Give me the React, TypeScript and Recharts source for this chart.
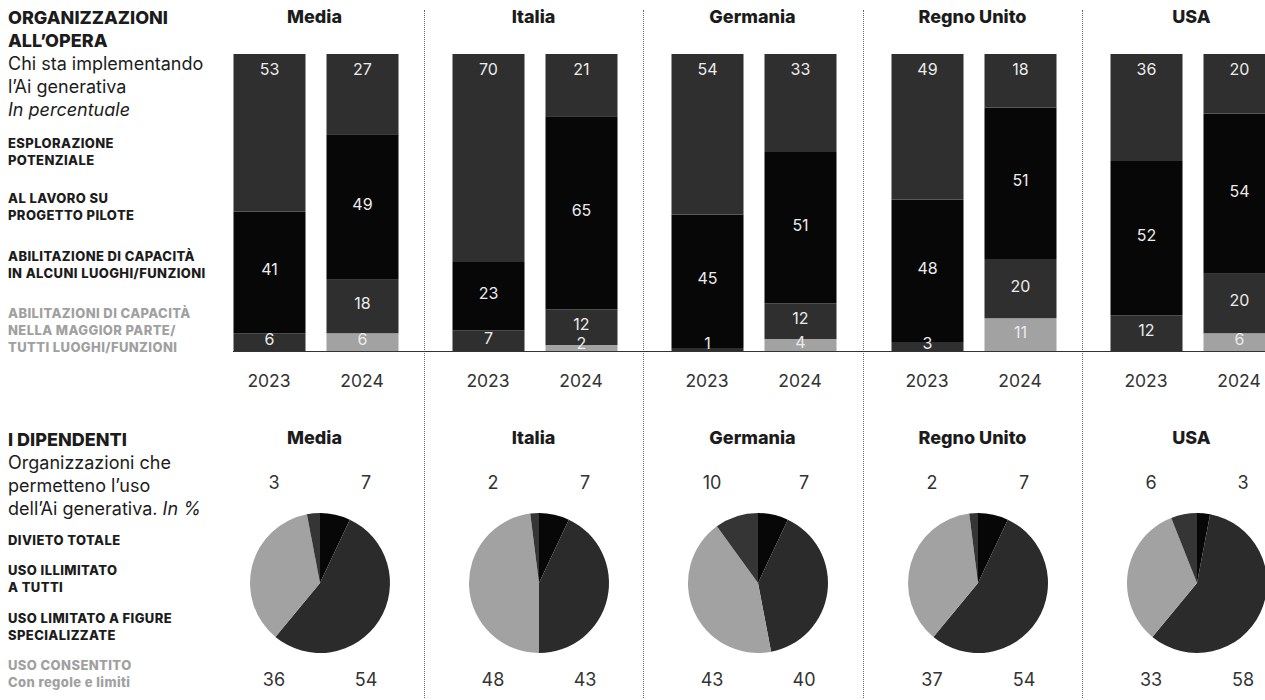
import React from "react";
import { Bar, BarChart, Cell, LabelList, Pie, PieChart, XAxis, YAxis } from "recharts";

const countries = ["Media", "Italia", "Germania", "Regno Unito", "USA"];
const years = ["2023", "2024"];

// bars, per country [2023, 2024]
const esplorazione = [[53, 27], [70, 21], [54, 33], [49, 18], [36, 20]];
const pilota = [[41, 49], [23, 65], [45, 51], [48, 51], [52, 54]];
const alcuni = [[6, 18], [7, 12], [1, 12], [3, 20], [12, 20]];
const maggior = [[0, 6], [0, 2], [0, 4], [0, 11], [0, 6]];

// pies, per country
const illimitato = [7, 7, 7, 7, 3];
const limitato = [54, 43, 40, 54, 58];
const consentito = [36, 48, 43, 37, 33];
const divieto = [3, 2, 10, 2, 6];

const barLegend = [
  ["ESPLORAZIONE", "POTENZIALE"],
  ["AL LAVORO SU", "PROGETTO PILOTE"],
  ["ABILITAZIONE DI CAPACITÀ", "IN ALCUNI LUOGHI/FUNZIONI"],
  ["ABILITAZIONI DI CAPACITÀ", "NELLA MAGGIOR PARTE/", "TUTTI LUOGHI/FUNZIONI"],
];
const pieLegend = [
  ["DIVIETO TOTALE"],
  ["USO ILLIMITATO", "A TUTTI"],
  ["USO LIMITATO A FIGURE", "SPECIALIZZATE"],
  ["USO CONSENTITO", "Con regole e limiti"],
];

const DARK = "#2f2f2f";
const BLACK = "#070707";
const LIGHT = "#a2a2a2";
const INK = "#1c1c1c";
const FONT = "Inter, 'Open Sans', sans-serif";

const PANEL_W = 219;
const PANEL_X = [205, 424, 643, 863, 1082];
const BAR_H = 400;
const BASE_Y = 351;

function midLabel(props: any) {
  const { x, y, width, height, value } = props;
  if (!value) return null;
  const cy = Math.min(y + height / 2 - 3, BASE_Y - 8);
  return (
    <text x={x + width / 2} y={cy} textAnchor="middle" dominantBaseline="central" fill="#ebebeb" fontSize={16} fontFamily={FONT}>
      {value}
    </text>
  );
}

function topLabel(props: any) {
  const { x, y, width, value } = props;
  if (!value) return null;
  return (
    <text x={x + width / 2} y={y + 15} textAnchor="middle" dominantBaseline="central" fill="#ebebeb" fontSize={16} fontFamily={FONT}>
      {value}
    </text>
  );
}

// labels sit in the four corners around the pie, not on the slices
const corner = [
  [46, -101],
  [46, 96],
  [-46, 96],
  [-46, -101],
];
function pieLabel(props: any) {
  const { cx, cy, index, value } = props;
  const [dx, dy] = corner[index];
  return (
    <text x={cx + dx} y={cy + dy} textAnchor="middle" dominantBaseline="central" fill="#333" fontSize={18} fontFamily={FONT}>
      {value}
    </text>
  );
}

function Title({ left, top, text }: { left: number; top: number; text: string }) {
  return (
    <div style={{ position: "absolute", left, top, width: PANEL_W, textAlign: "center", fontSize: 18, fontWeight: 800, color: INK, lineHeight: "20px" }}>
      {text}
    </div>
  );
}

function Lines({ top, lines, size, weight, lh, color = INK, ls = 0 }: { top: number; lines: React.ReactNode[]; size: number; weight: number; lh: number; color?: string; ls?: number }) {
  return (
    <div style={{ position: "absolute", left: 8, top, fontSize: size, fontWeight: weight, lineHeight: `${lh}px`, color, whiteSpace: "nowrap", letterSpacing: ls }}>
      {lines.map((l, i) => (
        <div key={i}>{l}</div>
      ))}
    </div>
  );
}

export default function App() {
  return (
    <div style={{ position: "absolute", left: 0, top: 0, width: 1265, height: 700, overflow: "hidden", background: "#fff", fontFamily: FONT }}>
      {/* left column texts */}
      <Lines top={6} lines={["ORGANIZZAZIONI", "ALL’OPERA"]} size={18} weight={800} lh={23} />
      <Lines top={52} lines={["Chi sta implementando", "l’Ai generativa", <i>In percentuale</i>]} size={18} weight={400} lh={23} />
      {barLegend.map((l, i) => (
        <Lines key={i} top={[135, 190, 248, 305][i]} lines={l} size={13} weight={800} lh={17} ls={0.4} color={i === 3 ? "#a0a0a0" : INK} />
      ))}
      <Lines top={428} lines={["I DIPENDENTI"]} size={18} weight={800} lh={23} />
      <Lines top={451} lines={["Organizzazioni che", "permetteno l’uso", <span>dell’Ai generativa. <i>In %</i></span>]} size={18} weight={400} lh={23} />
      {pieLegend.map((l, i) => (
        <Lines key={i} top={[532, 562, 610, 657][i]} lines={l} size={13} weight={800} lh={17} ls={0.4} color={i === 3 ? "#a0a0a0" : INK} />
      ))}

      {/* separators */}
      {PANEL_X.slice(1).map(x => (
        <div key={x} style={{ position: "absolute", left: x, top: 10, height: 688, borderLeft: "1px dotted #666" }} />
      ))}
      <div style={{ position: "absolute", left: 233, top: BASE_Y, width: 1040, height: 0, borderTop: "1.5px solid #333" }} />

      {countries.map((c, ci) => {
        const barData = years.map((y, yi) => ({
          year: y,
          esplorazione: esplorazione[ci][yi],
          pilota: pilota[ci][yi],
          alcuni: alcuni[ci][yi],
          maggior: maggior[ci][yi],
        }));
        const pieData = [
          { name: "Uso illimitato", value: illimitato[ci], fill: BLACK },
          { name: "Uso limitato", value: limitato[ci], fill: "#2b2b2b" },
          { name: "Uso consentito", value: consentito[ci], fill: LIGHT },
          { name: "Divieto totale", value: divieto[ci], fill: "#353535" },
        ];
        const left = PANEL_X[ci];
        return (
          <React.Fragment key={c}>
            <Title left={left} top={7} text={c} />
            <div style={{ position: "absolute", left, top: 0 }}>
              <BarChart width={PANEL_W} height={BAR_H} data={barData} margin={{ top: 54, right: 0, bottom: 0, left: 0 }}>
                <XAxis
                  dataKey="year"
                  height={BAR_H - BASE_Y}
                  axisLine={false}
                  tickLine={false}
                  tickSize={0}
                  tickMargin={24}
                  padding={{ left: 17.5, right: 15.5 }}
                  tick={{ fontSize: 17.5, fill: "#333", fontFamily: FONT }}
                />
                <YAxis hide domain={[0, 100]} />
                <Bar dataKey="maggior" stackId="a" fill={LIGHT} barSize={72} isAnimationActive={false}>
                  <LabelList dataKey="maggior" content={midLabel} />
                </Bar>
                <Bar dataKey="alcuni" stackId="a" fill={DARK} barSize={72} isAnimationActive={false}>
                  <LabelList dataKey="alcuni" content={midLabel} />
                </Bar>
                <Bar dataKey="pilota" stackId="a" fill={BLACK} barSize={72} isAnimationActive={false}>
                  <LabelList dataKey="pilota" content={midLabel} />
                </Bar>
                <Bar dataKey="esplorazione" stackId="a" fill={DARK} barSize={72} isAnimationActive={false}>
                  <LabelList dataKey="esplorazione" content={topLabel} />
                </Bar>
              </BarChart>
            </div>
            <Title left={left} top={428} text={c} />
            <div style={{ position: "absolute", left, top: 445 }}>
              <PieChart width={PANEL_W} height={250}>
                <Pie
                  data={pieData}
                  dataKey="value"
                  cx={110}
                  cy={133}
                  outerRadius={70}
                  startAngle={90}
                  endAngle={-270}
                  stroke="none"
                  label={pieLabel}
                  labelLine={false}
                  isAnimationActive={false}
                >
                  {pieData.map(d => (
                    <Cell key={d.name} fill={d.fill} />
                  ))}
                </Pie>
              </PieChart>
            </div>
          </React.Fragment>
        );
      })}
    </div>
  );
}
